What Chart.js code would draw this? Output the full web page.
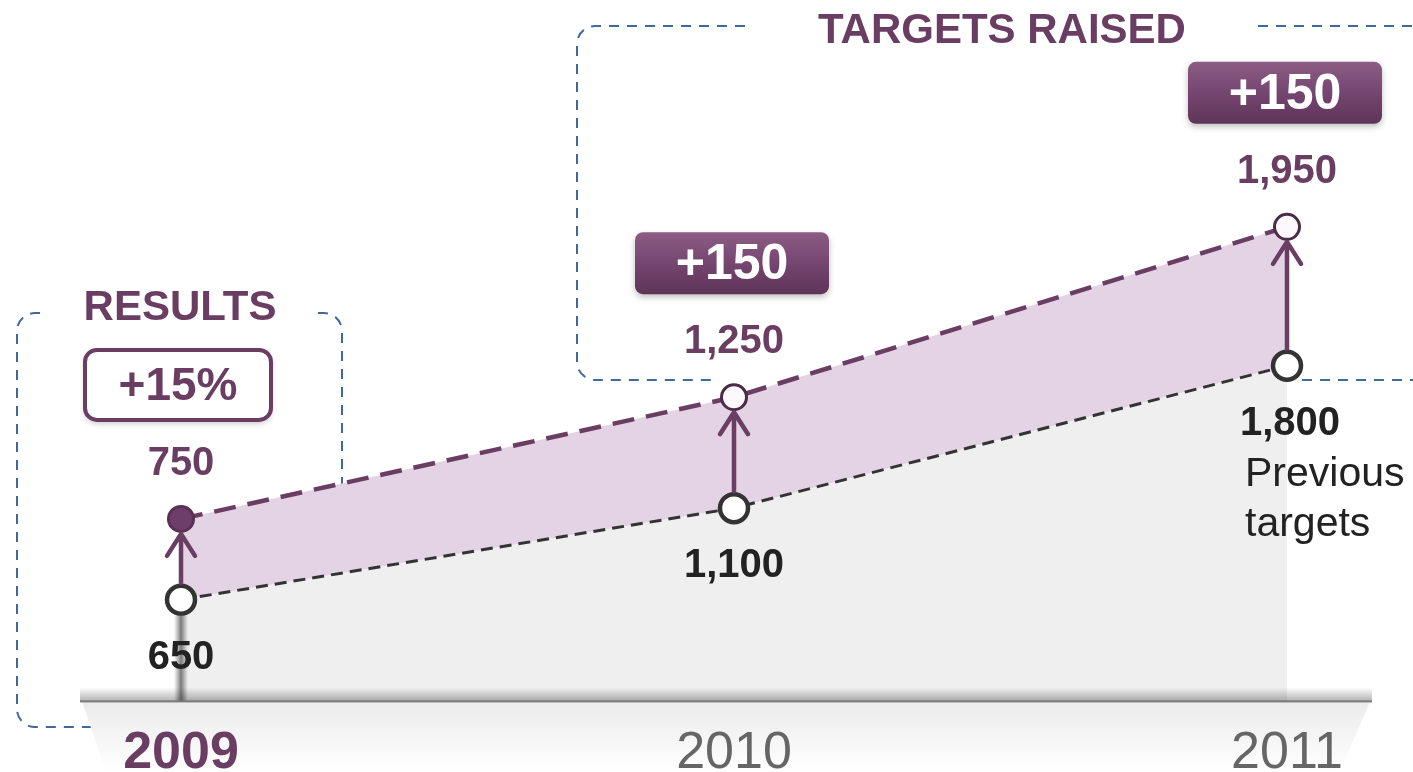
<!DOCTYPE html>
<html>
<head>
<meta charset="utf-8">
<script src="https://cdn.jsdelivr.net/npm/chart.js@4.4.1/dist/chart.umd.min.js"></script>
<style>
  html, body { margin: 0; padding: 0; background: #fff; }
  #wrap { width: 1413px; height: 772px; position: relative; }
</style>
</head>
<body>
<div id="wrap"><canvas id="chart"></canvas></div>
<script>
const years = ['2009', '2010', '2011'];
const previousTargets = [650, 1100, 1800];
const newTargets = [750, 1250, 1950];

const purple = '#6a3d63';
const FONT = "'Liberation Sans', Arial, sans-serif";

const fmt = v => v.toLocaleString('en-US');

function dashedBoxes(ctx) {
  ctx.save();
  ctx.strokeStyle = '#3f6a9a';
  ctx.lineWidth = 2;
  ctx.setLineDash([10, 8]);
  ctx.beginPath();
  // results box
  ctx.moveTo(40, 313);
  ctx.arcTo(17, 313, 17, 727, 18);
  ctx.arcTo(17, 727, 120, 727, 18);
  ctx.lineTo(120, 727);
  ctx.moveTo(318, 313);
  ctx.arcTo(342, 313, 342, 700, 18);
  ctx.lineTo(342, 700);
  // targets raised box
  ctx.moveTo(745, 26);
  ctx.arcTo(577, 26, 577, 380, 18);
  ctx.arcTo(577, 380, 720, 380, 18);
  ctx.lineTo(712, 380);
  ctx.moveTo(1258, 26);
  ctx.lineTo(1413, 26);
  ctx.moveTo(1302, 380);
  ctx.lineTo(1413, 380);
  ctx.stroke();
  ctx.restore();
}

function baseShelf(ctx, bottom) {
  ctx.save();
  const g = ctx.createLinearGradient(0, bottom, 0, 772);
  g.addColorStop(0, '#ebebeb');
  g.addColorStop(1, '#ffffff');
  ctx.fillStyle = g;
  ctx.beginPath();
  ctx.moveTo(82, bottom);
  ctx.lineTo(1370, bottom);
  ctx.lineTo(1340, 772);
  ctx.lineTo(106, 772);
  ctx.closePath();
  ctx.fill();
  ctx.restore();
}

function rr(ctx, x, y, w, h, r) {
  ctx.beginPath();
  ctx.moveTo(x + r, y);
  ctx.arcTo(x + w, y, x + w, y + h, r);
  ctx.arcTo(x + w, y + h, x, y + h, r);
  ctx.arcTo(x, y + h, x, y, r);
  ctx.arcTo(x, y, x + w, y, r);
  ctx.closePath();
}

function badge(ctx, cx, cy, text, filled) {
  const w = filled ? 194 : 186, h = filled ? 62 : 70;
  const x = cx - w / 2, y = cy - h / 2;
  ctx.save();
  ctx.shadowColor = 'rgba(0,0,0,0.25)';
  ctx.shadowBlur = 6;
  ctx.shadowOffsetY = 3;
  rr(ctx, x, y, w, h, filled ? 8 : 12);
  if (filled) {
    const g = ctx.createLinearGradient(0, y, 0, y + h);
    g.addColorStop(0, '#8c5c84');
    g.addColorStop(0.5, '#754670');
    g.addColorStop(1, '#5e3458');
    ctx.fillStyle = g;
    ctx.fill();
  } else {
    ctx.fillStyle = '#fff';
    ctx.fill();
    ctx.shadowColor = 'transparent';
    ctx.lineWidth = 4;
    ctx.strokeStyle = purple;
    ctx.stroke();
  }
  ctx.restore();
  ctx.save();
  ctx.fillStyle = filled ? '#fff' : purple;
  ctx.font = 'bold ' + (filled ? 50 : 46) + 'px ' + FONT;
  ctx.textAlign = 'center';
  ctx.textBaseline = 'middle';
  ctx.fillText(text, cx, cy + 2);
  ctx.restore();
}

const decor = {
  id: 'decor',
  beforeDraw(chart) {
    const ctx = chart.ctx;
    dashedBoxes(ctx);
    baseShelf(ctx, chart.chartArea.bottom);
    ctx.save();
    ctx.fillStyle = purple;
    ctx.textAlign = 'center';
    ctx.textBaseline = 'middle';
    ctx.font = 'bold 42px ' + FONT;
    ctx.fillText('RESULTS', 180, 308);
    ctx.font = 'bold 42px ' + FONT;
    ctx.fillText('TARGETS RAISED', 1002, 31);
    ctx.restore();
  },
  afterDatasetsDraw(chart) {
    const ctx = chart.ctx;
    const area = chart.chartArea;
    const prev = chart.getDatasetMeta(0).data;
    const next = chart.getDatasetMeta(1).data;

    // stem under the first point
    ctx.save();
    const sx = prev[0].x;
    const sg = ctx.createLinearGradient(sx - 7, 0, sx + 7, 0);
    sg.addColorStop(0, 'rgba(120,120,120,0)');
    sg.addColorStop(0.5, 'rgba(110,110,110,0.9)');
    sg.addColorStop(1, 'rgba(120,120,120,0)');
    ctx.fillStyle = sg;
    ctx.fillRect(sx - 7, prev[0].y + 16, 14, area.bottom - prev[0].y - 16);
    // base line with shadow
    const bg = ctx.createLinearGradient(0, area.bottom - 14, 0, area.bottom);
    bg.addColorStop(0, 'rgba(0,0,0,0)');
    bg.addColorStop(1, 'rgba(0,0,0,0.3)');
    ctx.fillStyle = bg;
    ctx.fillRect(80, area.bottom - 14, 1292, 14);
    ctx.fillStyle = '#7a7a7a';
    ctx.fillRect(80, area.bottom - 1, 1292, 2);
    ctx.restore();

    // arrows from previous to new targets
    ctx.save();
    ctx.strokeStyle = purple;
    ctx.lineWidth = 4.5;
    ctx.lineCap = 'round';
    ctx.lineJoin = 'round';
    prev.forEach((p, i) => {
      const q = next[i];
      const y0 = p.y - 17, y1 = q.y + 15;
      ctx.beginPath();
      ctx.moveTo(p.x, y0);
      ctx.lineTo(q.x, y1);
      ctx.moveTo(q.x - 14, y1 + 22);
      ctx.lineTo(q.x, y1);
      ctx.lineTo(q.x + 14, y1 + 22);
      ctx.stroke();
    });
    ctx.restore();

    // value labels
    ctx.save();
    ctx.textAlign = 'center';
    ctx.textBaseline = 'middle';
    ctx.font = 'bold 40px ' + FONT;
    ctx.fillStyle = purple;
    next.forEach((q, i) => ctx.fillText(fmt(newTargets[i]), q.x, q.y - 55));
    ctx.fillStyle = '#222';
    prev.forEach((p, i) => {
      const dx = i === prev.length - 1 ? 3 : 0;
      ctx.fillText(fmt(previousTargets[i]), p.x + dx, p.y + 58);
    });
    const last = prev[prev.length - 1];
    ctx.font = '41px ' + FONT;
    ctx.textAlign = 'left';
    ctx.fillText('Previous', last.x - 42, last.y + 109);
    ctx.fillText('targets', last.x - 42, last.y + 159);
    ctx.restore();

    // badges
    next.forEach((q, i) => {
      if (i === 0) {
        const pct = Math.round((newTargets[0] / previousTargets[0] - 1) * 100);
        badge(ctx, q.x - 3, q.y - 134, '+' + pct + '%', false);
      } else {
        badge(ctx, q.x - 2, q.y - 134, '+' + (newTargets[i] - previousTargets[i]), true);
      }
    });
  }
};

new Chart(document.getElementById('chart'), {
  type: 'line',
  data: {
    labels: years,
    datasets: [
      {
        label: 'Previous targets',
        data: previousTargets,
        yAxisID: 'y',
        borderColor: '#333',
        borderWidth: 3,
        borderDash: [12, 7],
        fill: 'start',
        backgroundColor: '#efefef',
        pointRadius: 14,
        pointBorderWidth: 4.5,
        pointBorderColor: '#333',
        pointBackgroundColor: '#fff',
        tension: 0,
      },
      {
        label: 'New targets',
        data: newTargets,
        yAxisID: 'y2',
        borderColor: purple,
        borderWidth: 4.5,
        borderDash: [22, 12],
        fill: '-1',
        backgroundColor: '#e3d3e4',
        pointRadius: 12.5,
        pointBorderWidth: 3,
        pointBorderColor: ['#5a3055', '#4a2c46', '#4a2c46'],
        pointBackgroundColor: ['#6d3f68', '#fcf8fc', '#fcf8fc'],
        tension: 0,
      },
    ],
  },
  options: {
    responsive: true,
    maintainAspectRatio: false,
    animation: false,
    layout: { padding: { left: 181, right: 126, top: 20, bottom: -33 } },
    plugins: {
      legend: { display: false },
      tooltip: { enabled: false },
    },
    scales: {
      x: {
        offset: false,
        grid: { display: false, drawTicks: false },
        border: { display: false },
        ticks: {
          padding: 31,
          color: ctx => (ctx.index === 0 ? purple : '#666'),
          font: ctx => ({ family: FONT, size: 52, weight: ctx.index === 0 ? 'bold' : 'normal', lineHeight: 0.8 }),
        },
      },
      y: { display: false, min: 150, max: 3500 },
      y2: { display: false, min: 0, max: 2800 },
    },
  },
  plugins: [decor],
});
</script>
</body>
</html>
